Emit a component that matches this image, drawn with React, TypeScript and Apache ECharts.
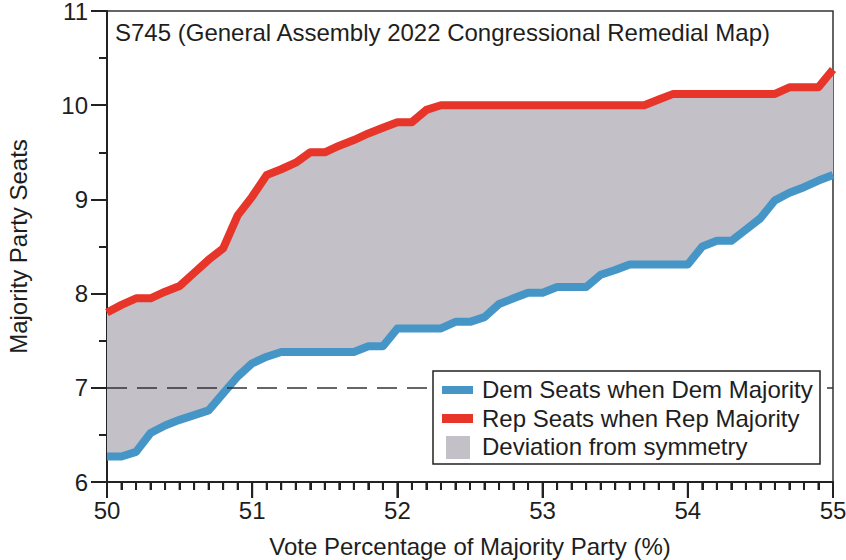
import React, { useEffect, useRef } from "react";
import * as echarts from "echarts";

const votePct = [
  50.0, 50.1, 50.2, 50.3, 50.4, 50.5, 50.6, 50.7, 50.8, 50.9,
  51.0, 51.1, 51.2, 51.3, 51.4, 51.5, 51.6, 51.7, 51.8, 51.9,
  52.0, 52.1, 52.2, 52.3, 52.4, 52.5, 52.6, 52.7, 52.8, 52.9,
  53.0, 53.1, 53.2, 53.3, 53.4, 53.5, 53.6, 53.7, 53.8, 53.9,
  54.0, 54.1, 54.2, 54.3, 54.4, 54.5, 54.6, 54.7, 54.8, 54.9,
  55.0,
];

const demSeats = [
  6.27, 6.27, 6.32, 6.52, 6.6, 6.66, 6.71, 6.76, 6.94, 7.12,
  7.26, 7.33, 7.38, 7.38, 7.38, 7.38, 7.38, 7.38, 7.44, 7.44,
  7.63, 7.63, 7.63, 7.63, 7.7, 7.7, 7.75, 7.89, 7.95, 8.01,
  8.01, 8.07, 8.07, 8.07, 8.2, 8.25, 8.31, 8.31, 8.31, 8.31,
  8.31, 8.5, 8.56, 8.56, 8.68, 8.8, 8.99, 9.07, 9.13, 9.2,
  9.26,
];

const repSeats = [
  7.8, 7.88, 7.95, 7.95, 8.02, 8.08, 8.22, 8.36, 8.48, 8.83,
  9.03, 9.26, 9.32, 9.39, 9.5, 9.5, 9.57, 9.63, 9.7, 9.76,
  9.82, 9.82, 9.95, 10.0, 10.0, 10.0, 10.0, 10.0, 10.0, 10.0,
  10.0, 10.0, 10.0, 10.0, 10.0, 10.0, 10.0, 10.0, 10.06, 10.12,
  10.12, 10.12, 10.12, 10.12, 10.12, 10.12, 10.12, 10.19, 10.19, 10.19,
  10.38,
];

const majorityLine = 7;
const yTicks = [6, 7, 8, 9, 10, 11];
const xTicks = [50, 51, 52, 53, 54, 55];

const titleText = "S745 (General Assembly 2022 Congressional Remedial Map)";
const legendLabels = [
  "Dem Seats when Dem Majority",
  "Rep Seats when Rep Majority",
  "Deviation from symmetry",
];

const BLUE = "#4596c7";
const RED = "#e8352a";
const GRAY = "#c3c0c8";
const INK = "#1e1e1e";
const AXIS = "#222";
const FONT = "'Liberation Sans', Arial, Helvetica, sans-serif";

export default function App() {
  const ref = useRef<HTMLDivElement>(null);

  useEffect(() => {
    if (!ref.current) return;
    const chart = echarts.init(ref.current, undefined, { renderer: "svg" });

    const band = votePct.map((x, i) => [x, demSeats[i], repSeats[i]]);
    const dem = votePct.map((x, i) => [x, demSeats[i]]);
    const rep = votePct.map((x, i) => [x, repSeats[i]]);
    const tickData = votePct.map((x) => [x, yTicks[0]]);

    const legX = 433;
    const legY = 371;
    const legZ = 100;

    chart.setOption({
      animation: false,
      textStyle: { fontFamily: FONT },
      title: {
        text: titleText,
        left: 110,
        top: 15,
        textStyle: { fontFamily: FONT, fontSize: 24, fontWeight: "normal", color: INK, lineHeight: 24 },
      },
      grid: {
        left: 107,
        right: 13,
        top: 11,
        bottom: 78,
        show: true,
        borderColor: "#333",
        borderWidth: 1.5,
        backgroundColor: "transparent",
        outerBoundsMode: "none",
      },
      xAxis: {
        type: "value",
        min: xTicks[0],
        max: xTicks[xTicks.length - 1],
        interval: 1,
        name: "Vote Percentage of Majority Party (%)",
        nameLocation: "middle",
        nameGap: 52,
        nameTextStyle: { fontFamily: FONT, fontSize: 24, color: INK },
        axisLine: { show: true, lineStyle: { color: AXIS, width: 2 } },
        axisTick: { show: true, length: 16, lineStyle: { color: AXIS, width: 2 } },
        minorTick: { show: true, splitNumber: 10, length: 8, lineStyle: { color: AXIS, width: 2 } },
        axisLabel: { fontFamily: FONT, fontSize: 24, color: INK, margin: 16 },
        splitLine: { show: false },
      },
      yAxis: {
        type: "value",
        min: yTicks[0],
        max: yTicks[yTicks.length - 1],
        interval: 1,
        name: "Majority Party Seats",
        nameLocation: "middle",
        nameGap: 77,
        nameTextStyle: { fontFamily: FONT, fontSize: 24, color: INK },
        axisLine: { show: true, lineStyle: { color: AXIS, width: 2 } },
        axisTick: { show: true, length: 16, lineStyle: { color: AXIS, width: 2 } },
        minorTick: { show: true, splitNumber: 2, length: 8, lineStyle: { color: AXIS, width: 2 } },
        axisLabel: { fontFamily: FONT, fontSize: 24, color: INK, margin: 19 },
        splitLine: { show: false },
      },
      series: [
        {
          name: legendLabels[2],
          type: "custom",
          data: band,
          silent: true,
          z: 1,
          renderItem: (params: any, api: any) => {
            if (params.dataIndex !== 0) return null;
            const upper = band.map((d) => api.coord([d[0], d[2]]));
            const lower = band.map((d) => api.coord([d[0], d[1]])).reverse();
            return {
              type: "polygon",
              shape: { points: upper.concat(lower) },
              style: { fill: GRAY },
            };
          },
          markLine: {
            silent: true,
            symbol: "none",
            label: { show: false },
            lineStyle: { color: "#333", width: 1.5, type: [20, 10] },
            data: [{ yAxis: majorityLine }],
          },
        },
        {
          name: "xTicks",
          type: "custom",
          data: tickData,
          silent: true,
          clip: false,
          z: 5,
          renderItem: (params: any, api: any) => {
            const x = api.value(0);
            const p = api.coord([x, api.value(1)]);
            const major = Math.abs(x - Math.round(x)) < 1e-6;
            return {
              type: "line",
              shape: { x1: p[0], y1: p[1], x2: p[0], y2: p[1] + (major ? 16 : 8) },
              style: { stroke: AXIS, lineWidth: 2 },
            };
          },
        },
        {
          name: legendLabels[0],
          type: "line",
          data: dem,
          symbol: "none",
          lineStyle: { color: BLUE, width: 8, join: "round" },
          z: 3,
        },
        {
          name: legendLabels[1],
          type: "line",
          data: rep,
          symbol: "none",
          lineStyle: { color: RED, width: 8, join: "round" },
          z: 3,
        },
      ],
      graphic: [
        {
          type: "rect",
          z: legZ,
          shape: { x: legX, y: legY, width: 387, height: 93 },
          style: { fill: "#fff", stroke: "#222", lineWidth: 1.5 },
        },
        {
          type: "rect",
          z: legZ + 1,
          shape: { x: legX + 9, y: legY + 15, width: 31, height: 8 },
          style: { fill: BLUE },
        },
        {
          type: "rect",
          z: legZ + 1,
          shape: { x: legX + 9, y: legY + 43, width: 31, height: 9 },
          style: { fill: RED },
        },
        {
          type: "rect",
          z: legZ + 1,
          shape: { x: legX + 13, y: legY + 65, width: 24, height: 23 },
          style: { fill: GRAY },
        },
        {
          type: "text",
          z: legZ + 1,
          x: legX + 49,
          y: legY + 18,
          style: { text: legendLabels[0], fontFamily: FONT, fontSize: 24, fill: INK, textVerticalAlign: "middle" },
        },
        {
          type: "text",
          z: legZ + 1,
          x: legX + 49,
          y: legY + 47,
          style: { text: legendLabels[1], fontFamily: FONT, fontSize: 24, fill: INK, textVerticalAlign: "middle" },
        },
        {
          type: "text",
          z: legZ + 1,
          x: legX + 49,
          y: legY + 75,
          style: { text: legendLabels[2], fontFamily: FONT, fontSize: 24, fill: INK, textVerticalAlign: "middle" },
        },
      ],
    });

    return () => chart.dispose();
  }, []);

  return (
    <div
      ref={ref}
      style={{ position: "fixed", left: 0, top: 0, width: 846, height: 560, background: "#fff" }}
    />
  );
}
